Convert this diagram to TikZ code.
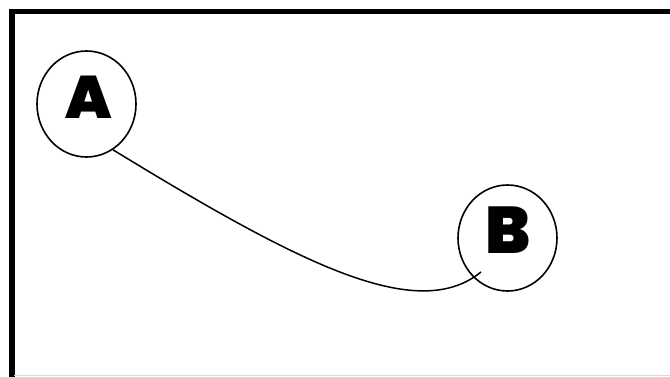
\documentclass[tikz,border=0pt]{standalone}
\usepackage{fontspec}
\newfontfamily\heavy{Poppins}[UprightFont=* Black]
\usetikzlibrary{shapes.geometric}
\tikzset{
  circ/.style={draw, ellipse, line width=1.6pt, minimum width=99pt, minimum height=106pt, inner sep=0pt},
  lbl/.style={font=\heavy\fontsize{60}{60}\selectfont, inner sep=0pt},
  lblbig/.style={font=\heavy\fontsize{66}{66}\selectfont, inner sep=0pt},
  frameline/.style={line width=5.2pt, line cap=butt},
  conn/.style={line width=1.5pt}
}
\begin{document}
\begin{tikzpicture}[x=1pt, y=-1pt]
\useasboundingbox (0,0) rectangle (670,376);
\fill[white] (0,0) rectangle (670,376);
\begin{scope}
\clip (0,0) rectangle (670,376);
\draw[frameline] (12,380) -- (12,11.8) -- (675,11.8);
\draw[gray!30, line width=1pt] (14.3,375.5) -- (670,375.5);
\end{scope}
\node[circ] (A) at (86.5,104) {};
\node[circ] (B) at (507.5,238) {};
\node[lbl] (Alabel) at (88.5,97) {A};
\node[lblbig] (Blabel) at (508,230.5) {B};
\coordinate (Bend) at (481,272);
\draw[conn] (A.-60) .. controls (300,264) and (417,324) .. (Bend);
\end{tikzpicture}
\end{document}
